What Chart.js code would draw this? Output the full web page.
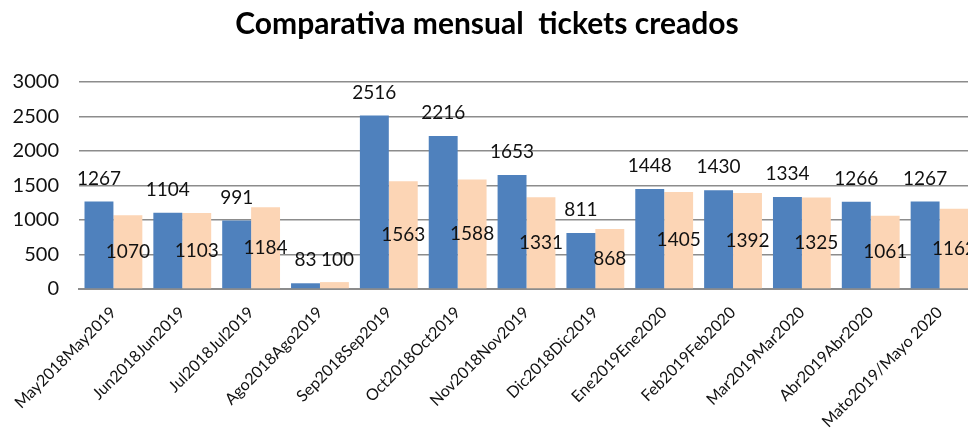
<!DOCTYPE html>
<html>
<head>
<meta charset="utf-8">
<script src="https://cdn.jsdelivr.net/npm/chart.js@4/dist/chart.umd.min.js"></script>
<style>
    html, body { margin: 0; padding: 0; background: #fff; overflow: hidden; }
    #wrap { width: 974px; height: 432px; position: relative; }
</style>
</head>
<body>
<div id="wrap"><canvas id="ticketsChart"></canvas></div>
<script>
'use strict';

// Data
const months = [
    "May2018May2019", "Jun2018Jun2019", "Jul2018Jul2019", "Ago2018Ago2019",
    "Sep2018Sep2019", "Oct2018Oct2019", "Nov2018Nov2019", "Dic2018Dic2019",
    "Ene2019Ene2020", "Feb2019Feb2020", "Mar2019Mar2020", "Abr2019Abr2020",
    "Mato2019/Mayo 2020"
];
const ticketsPrevYear = [1267, 1104, 991, 83, 2516, 2216, 1653, 811, 1448, 1430, 1334, 1266, 1267];
const ticketsThisYear = [1070, 1103, 1184, 100, 1563, 1588, 1331, 868, 1405, 1392, 1325, 1061, 1162];
const yTicks = [0, 500, 1000, 1500, 2000, 2500, 3000];

const FONT = "Lato, 'Open Sans', sans-serif";

// value labels, drawn on top of the bars
const valueLabels = {
    id: 'valueLabels',
    afterDatasetsDraw(chart) {
        const ctx = chart.ctx;
        ctx.save();
        ctx.font = "19px " + FONT;
        ctx.fillStyle = "#111";
        ctx.textAlign = "center";
        ctx.textBaseline = "middle";
        chart.data.datasets.forEach((ds, i) => {
            chart.getDatasetMeta(i).data.forEach((bar, j) => {
                let y;
                let x = bar.x;
                if (i === 0) {
                    y = bar.y - 23;
                } else if ((bar.base - bar.y) < 40) {
                    // tiny bar: label goes above it, like the blue one
                    y = bar.y - 22;
                    x = bar.x + 3;
                } else {
                    y = (bar.y + bar.base) / 2;
                }
                ctx.fillText(String(ds.data[j]), x, y);
            });
        });
        ctx.restore();
    }
};

new Chart(document.getElementById('ticketsChart'), {
    type: 'bar',
    data: {
        labels: months,
        datasets: [
            {
                label: "2018/2019",
                data: ticketsPrevYear,
                backgroundColor: "#4f81bd",
                categoryPercentage: 0.84,
                barPercentage: 1.0
            },
            {
                label: "2019/2020",
                data: ticketsThisYear,
                backgroundColor: "#fcd5b5",
                categoryPercentage: 0.84,
                barPercentage: 1.0
            }
        ]
    },
    options: {
        responsive: true,
        maintainAspectRatio: false,
        animation: false,
        layout: { padding: { left: 0, right: 0, top: 0, bottom: 0 } },
        plugins: {
            legend: { display: false },
            tooltip: { enabled: false },
            title: {
                display: true,
                text: "Comparativa mensual  tickets creados",
                color: "#000",
                font: { family: FONT, size: 30, weight: 'bold' },
                padding: { top: 6, bottom: 40 }
            }
        },
        scales: {
            x: {
                grid: { display: false },
                border: { display: true, color: "#8c8c8c", width: 2 },
                ticks: {
                    autoSkip: false,
                    maxRotation: 45,
                    minRotation: 45,
                    padding: 6,
                    color: "#111",
                    font: { family: FONT, size: 16 }
                },
                afterFit(scale) { scale.height = 143; }
            },
            y: {
                min: 0,
                max: 3000,
                afterBuildTicks(scale) {
                    scale.ticks = yTicks.map(v => ({ value: v }));
                },
                grid: { color: "#8c8c8c", lineWidth: 1.5, drawTicks: false },
                border: { display: false },
                ticks: {
                    padding: 20,
                    color: "#111",
                    font: { family: FONT, size: 20 },
                    callback: (v) => String(v)
                },
                afterFit(scale) { scale.width = 79; }
            }
        }
    },
    plugins: [valueLabels]
});
</script>
</body>
</html>
